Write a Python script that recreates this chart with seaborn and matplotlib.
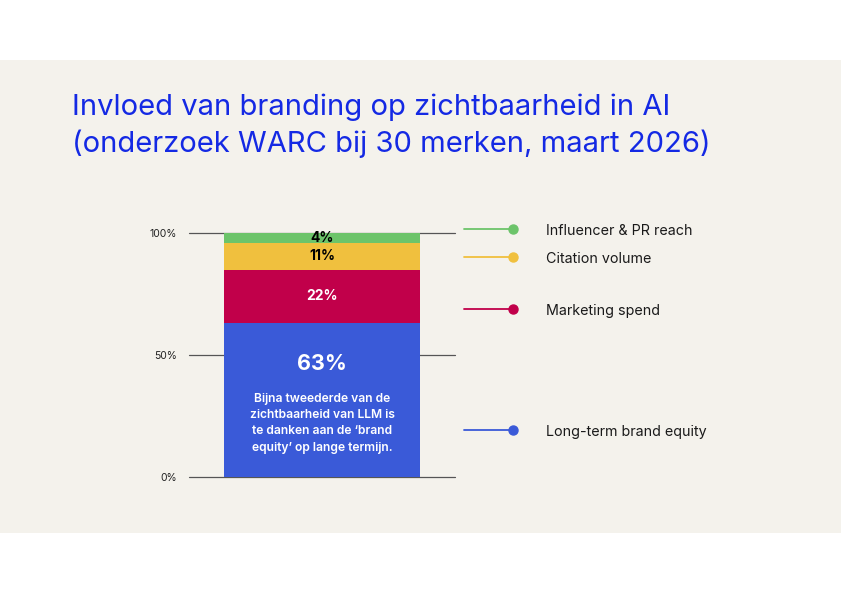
import matplotlib
matplotlib.use('Agg')
import matplotlib.pyplot as plt
from matplotlib.patches import Rectangle
from matplotlib.lines import Line2D
import seaborn as sns
import pandas as pd

# Data
segments = ['Long-term brand equity', 'Marketing spend', 'Citation volume', 'Influencer & PR reach']
shares = [63, 22, 11, 4]
colors = ['#3A5AD8', '#C1004A', '#F0C03E', '#6CC46A']
label_colors = ['white', 'white', 'black', 'black']
ticks = [0, 50, 100]
tick_labels = ['0%', '50%', '100%']
note = "Bijna tweederde van de\nzichtbaarheid van LLM is\nte danken aan de \u2018brand\nequity\u2019 op lange termijn."

sns.set_theme(style='white')
plt.rcParams['font.family'] = ['Inter', 'DejaVu Sans']

fig = plt.figure(figsize=(8.41, 5.95), dpi=100)
fig.patch.set_facecolor('white')
fig.patches.append(Rectangle((0, 0.104), 1, 0.795, transform=fig.transFigure,
                             facecolor='#F4F2EC', edgecolor='none', zorder=-10))

fig.text(0.0856, 0.807, 'Invloed van branding op zichtbaarheid in AI',
         color='#1429E4', fontsize=21, va='baseline')
fig.text(0.0856, 0.745, '(onderzoek WARC bij 30 merken, maart 2026)',
         color='#1429E4', fontsize=21, va='baseline')

ax = fig.add_axes([0.2247, 0.1983, 0.3163, 0.4101])
ax.set_facecolor('none')

# stacked bar: draw cumulative totals from largest down
cum = pd.Series(shares).cumsum().tolist()
df = pd.DataFrame({'x': ['all'] * len(segments), 'seg': segments, 'top': cum})
for i in reversed(range(len(segments))):
    sns.barplot(data=df.iloc[[i]], x='x', y='top', color=colors[i], width=0.74,
                saturation=1, linewidth=0, edgecolor='none', ax=ax, zorder=3)

ax.set_xlim(-0.5, 0.5)
ax.set_ylim(0, 100)
ax.set_yticks(ticks)
ax.set_yticklabels(tick_labels, fontsize=7.5, color='#222222')
ax.tick_params(axis='y', length=0, pad=8.5)
ax.set_xticks([])
ax.set_xlabel('')
ax.set_ylabel('')
for t in ticks:
    ax.axhline(t, color='#555555', lw=0.9, zorder=1, clip_on=False)
for s in ax.spines.values():
    s.set_visible(False)

# segment labels
bottoms = [0] + cum[:-1]
for i in range(1, len(segments)):
    ax.text(0, bottoms[i] + shares[i] / 2, f'{shares[i]}%', ha='center', va='center',
            fontsize=10, fontweight='bold', color=label_colors[i], zorder=5)
ax.text(0, 46.5, f'{shares[0]}%', ha='center', va='center', fontsize=15.5,
        fontweight='bold', color='white', zorder=5)
ax.text(0, 22, note, ha='center', va='center', fontsize=8.7, fontweight='semibold',
        color='white', linespacing=1.47, zorder=5)

# legend with leader lines
leg_y = [0.2773, 0.4807, 0.568, 0.6151]
for i in range(len(segments)):
    fig.add_artist(Line2D([0.5517, 0.61], [leg_y[i], leg_y[i]], color=colors[i], lw=1.3,
                          transform=fig.transFigure))
    fig.add_artist(Line2D([0.61], [leg_y[i]], marker='o', markersize=6.5, color=colors[i],
                          transform=fig.transFigure))
    fig.text(0.649, leg_y[i] - 0.0034, segments[i], fontsize=10.3, va='center', color='#1a1a1a')

fig.savefig('out.png', dpi=100)
